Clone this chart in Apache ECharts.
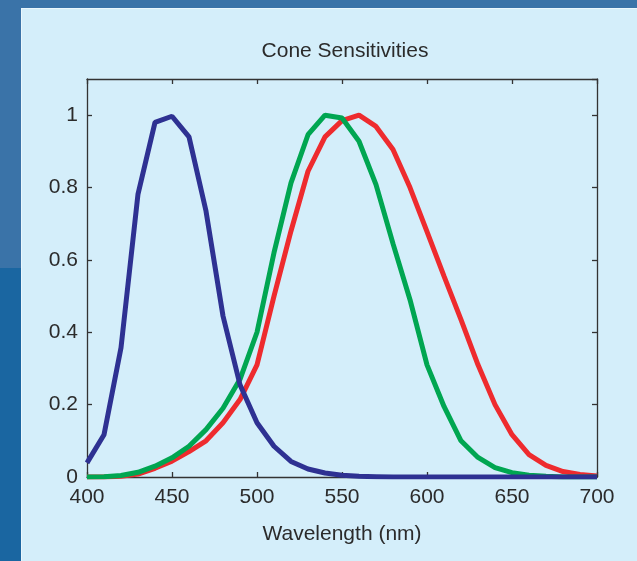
<!DOCTYPE html>
<html>
<head>
<meta charset="utf-8">
<script src="https://cdn.jsdelivr.net/npm/echarts@6/dist/echarts.min.js"></script>
<style>
html,body{margin:0;padding:0;background:#1a66a1;}
#c{width:637px;height:561px;}
</style>
</head>
<body>
<div id="c"></div>
<script>
var wavelengths = [400,410,420,430,440,450,460,470,480,490,500,510,520,530,540,550,560,570,580,590,600,610,620,630,640,650,660,670,680,690,700];
var sCone = [0.039,0.117,0.357,0.782,0.980,0.997,0.940,0.735,0.445,0.255,0.150,0.085,0.043,0.022,0.011,0.005,0.002,0.001,0,0,0,0,0,0,0,0,0,0,0,0,0];
var mCone = [0,0.001,0.004,0.013,0.030,0.053,0.085,0.131,0.190,0.270,0.400,0.620,0.813,0.946,1.000,0.992,0.928,0.808,0.645,0.490,0.310,0.195,0.100,0.054,0.026,0.012,0.005,0.002,0,0,0];
var lCone = [0,0,0.002,0.008,0.024,0.044,0.070,0.100,0.150,0.214,0.310,0.500,0.680,0.845,0.940,0.985,1.000,0.969,0.905,0.800,0.678,0.555,0.435,0.310,0.200,0.117,0.062,0.032,0.015,0.007,0.003];
var xTicks = [400,450,500,550,600,650,700];
var yTicks = [0,0.2,0.4,0.6,0.8,1];

function pairs(v){ return wavelengths.map(function(w,i){ return [w, v[i]]; }); }

var font = '"Liberation Sans", Arial, Helvetica, sans-serif';
var txt = '#2b2b2b';
var axisLine = {show:true, onZero:false, lineStyle:{color:'#333333', width:1.3}};
var axisTick = {show:true, inside:true, length:5, lineStyle:{color:'#333333', width:1.3}};

var chart = echarts.init(document.getElementById('c'), null, {renderer:'canvas'});
chart.setOption({
  backgroundColor: '#1a66a1',
  animation: false,
  graphic: [
    {type:'rect', z:-10, silent:true, shape:{x:0,y:0,width:637,height:9}, style:{fill:'#3a73a8'}},
    {type:'rect', z:-10, silent:true, shape:{x:0,y:0,width:21,height:268}, style:{fill:'#3a73a8'}},
    {type:'rect', z:-9, silent:true, shape:{x:21,y:8,width:616,height:553}, style:{fill:'#eaf7fd'}},
    {type:'rect', z:-8, silent:true, shape:{x:22,y:9,width:615,height:552}, style:{fill:'#d4eefa'}}
  ],
  title: {
    text: 'Cone Sensitivities',
    left: 340, top: 36, textAlign: 'center',
    textStyle: {fontFamily: font, fontSize: 21, fontWeight: 'normal', color: txt}
  },
  grid: {left: 87, right: 40, top: 79, bottom: 84, containLabel: false},
  xAxis: [
    {type:'value', min:400, max:700, interval:50, position:'bottom',
     axisLine: axisLine, axisTick: axisTick, splitLine:{show:false},
     axisLabel:{fontFamily:font, fontSize:21, color:txt, margin:10,
       formatter:function(v){ return xTicks.indexOf(v) >= 0 ? String(v) : ''; }},
     name:'Wavelength (nm)', nameLocation:'middle', nameGap:47,
     nameTextStyle:{fontFamily:font, fontSize:21, color:txt}},
    {type:'value', min:400, max:700, interval:50, position:'top',
     axisLine: axisLine, axisTick: axisTick, splitLine:{show:false}, axisLabel:{show:false}}
  ],
  yAxis: [
    {type:'value', min:0, max:1.1, interval:0.2, position:'left',
     axisLine: axisLine, axisTick: axisTick, splitLine:{show:false},
     axisLabel:{fontFamily:font, fontSize:21, color:txt, margin:9, showMaxLabel:false,
       formatter:function(v){
         for (var i=0;i<yTicks.length;i++){ if (Math.abs(v-yTicks[i])<1e-9) return String(yTicks[i]); }
         return '';
       }}},
    {type:'value', min:0, max:1.1, interval:0.2, position:'right',
     axisLine: axisLine, axisTick: axisTick, splitLine:{show:false}, axisLabel:{show:false}}
  ],
  series: [
    {type:'line', name:'L', data:pairs(lCone), symbol:'none', xAxisIndex:0, yAxisIndex:0,
     lineStyle:{color:'#ee2b2e', width:5}, z:2},
    {type:'line', name:'M', data:pairs(mCone), symbol:'none', xAxisIndex:0, yAxisIndex:0,
     lineStyle:{color:'#00a651', width:5}, z:3},
    {type:'line', name:'S', data:pairs(sCone), symbol:'none', xAxisIndex:0, yAxisIndex:0,
     lineStyle:{color:'#2e3192', width:5}, z:4}
  ]
});
</script>
</body>
</html>
